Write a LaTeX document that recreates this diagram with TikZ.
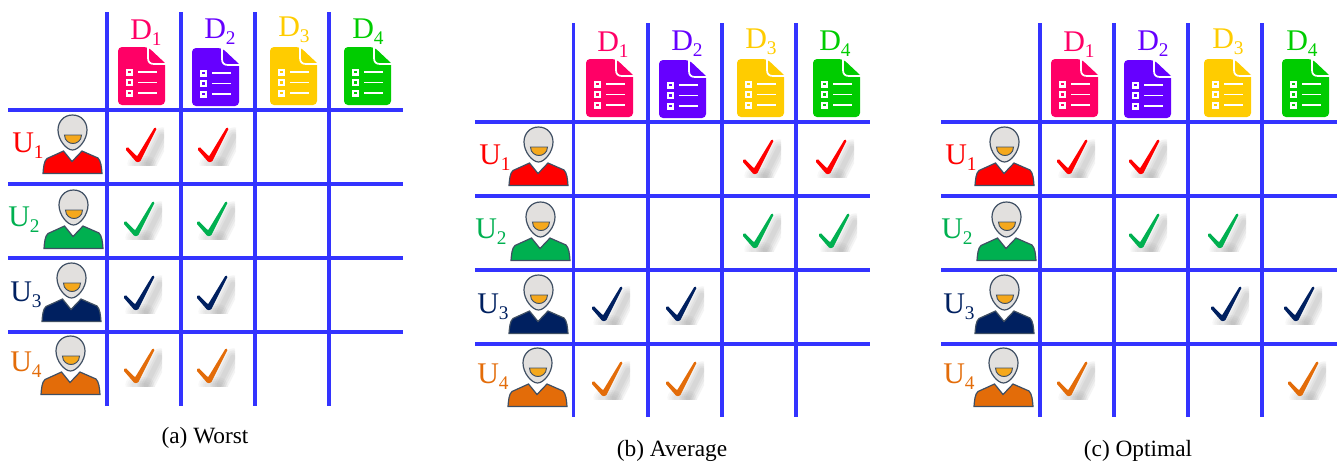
\documentclass[tikz,border=0pt]{standalone}
\usepackage{fontspec}
\setmainfont{Liberation Serif}
\usetikzlibrary{positioning, calc}

\definecolor{docone}{HTML}{FF0066}
\definecolor{doctwo}{HTML}{6600FF}
\definecolor{docthree}{HTML}{FFCC00}
\definecolor{docfour}{HTML}{00CC00}
\definecolor{usrone}{HTML}{FF0000}
\definecolor{usrtwo}{HTML}{00B050}
\definecolor{usrthree}{HTML}{002060}
\definecolor{usrfour}{HTML}{E36C09}
\definecolor{gridblue}{HTML}{3333FF}
\definecolor{outlinegray}{HTML}{3F4F63}
\definecolor{headgray}{HTML}{E2E0DE}
\definecolor{mouthorange}{HTML}{F5A81C}

\newcommand{\lowidx}[1]{\raisebox{-5.2pt}{\fontsize{14.5}{15}\selectfont #1}}

\tikzset{
	gridline/.style={gridblue,line width=2.4pt},
	headlabel/.style={anchor=base west,inner sep=0pt,font=\fontsize{22.5}{24}\selectfont},
	caption/.style={anchor=base,inner sep=0pt,font=\fontsize{17.5}{20}\selectfont},
	pics/docicon/.style={code={
		\fill[#1,rounded corners=3pt] (0,0) -- (30,0) [sharp corners] -- (47,16) [rounded corners=3pt] -- (47,58) -- (0,58) -- cycle;
		\draw[white,line width=1.3pt] (30,-1) -- (30,11) .. controls (30,15) and (32,17) .. (36,17) -- (48,17);
		\foreach \y in {25,35.5,46}{
			\fill[white] (8,\y-3.5) rectangle +(7,7);
			\fill[#1] (10.2,\y-1.2) rectangle +(2.6,2.6);
			\draw[white,line width=1.2pt] (20,\y) -- (39,\y);
		}
	}},
	pics/usericon/.style={code={
		\draw[fill=#1,draw=outlinegray,line width=0.9pt] (0,58.5) .. controls (0.5,52) and (1,46) .. (4,43.5) -- (20.5,36) -- (29,46.5) -- (39,36) -- (55,43) .. controls (58,46) and (58.5,52) .. (59,58.5) -- cycle;
		\draw[fill=headgray,draw=outlinegray,line width=0.9pt] (29.5,0) .. controls (38.5,0) and (44,7) .. (44,15) .. controls (44,25) and (35.5,35) .. (29.5,35) .. controls (23.5,35) and (15,25) .. (15,15) .. controls (15,7) and (20.5,0) .. (29.5,0) -- cycle;
		\draw[fill=mouthorange,draw=outlinegray,line width=0.7pt] (21.5,20) -- (38.5,20) .. controls (38.5,26) and (33.5,28.5) .. (30,28.5) .. controls (26.5,28.5) and (21.5,26) .. (21.5,20) -- cycle;
	}},
	pics/checkicon/.style={code={
		\begin{scope}
			\clip (-4,-25) rectangle (38,16);
			\foreach \w in {13,10,7,4}{
				\draw[gray,opacity=.09,line width=\w pt,line cap=round] (36,-13) -- (22,15);
				\draw[gray,opacity=.06,line width=\w pt,line cap=round] (10,15) -- (22,16);
			}
		\end{scope}
		\fill[#1,rounded corners=0.8pt] (-0.7,0.2) -- (1.6,-2.2) -- (11,7.5) -- (28.7,-21.7) -- (30.8,-20.8) -- (14,12.8) -- (10.5,13.2) -- cycle;
	}},
}

\begin{document}
\begin{tikzpicture}[x=0.75pt,y=-0.75pt]
	\useasboundingbox (0,0) rectangle (1339,462);

	% grids
	\foreach \xa/\ya/\yb in {107/12/406,181/12/406,255/12/406,329/12/406,
		573.5/23/417,648/23/417,722/23/417,796/23/417,
		1040/23/417,1114/23/417,1188/23/417,1262/23/417}{
		\draw[gridline] (\xa,\ya) -- (\xa,\yb);
	}
	\foreach \xa/\xb/\y in {8/403/110,8/403/184,8/403/258,8/403/332,
		475/870/122,475/870/196,475/870/270,475/870/344,
		941/1337/122,941/1337/196,941/1337/270,941/1337/344}{
		\draw[gridline] (\xa,\y) -- (\xb,\y);
	}

	% documents
	\foreach \x/\y/\c in {118/47/docone,192/48/doctwo,270/47/docthree,344/47/docfour,
		586/59/docone,659/60/doctwo,737/59/docthree,813/59/docfour,
		1051/59/docone,1124/60/doctwo,1204/59/docthree,1282/59/docfour}{
		\pic at (\x,\y) {docicon=\c};
	}
	\foreach \p/\x/\y/\n/\c in {a/130/39/1/docone,a/204/38/2/doctwo,a/278/36/3/docthree,a/352/38/4/docfour,
		b/597/51/1/docone,b/671/50/2/doctwo,b/745/48/3/docthree,b/819/50/4/docfour,
		c/1063/51/1/docone,c/1137/50/2/doctwo,c/1212/48/3/docthree,c/1286/50/4/docfour}{
		\node[headlabel,text=\c] (doclabel\p\n) at (\x,\y) {D\lowidx{\n}};
	}

	% users
	\foreach \x/\y/\c in {43/115/usrone,44/190/usrtwo,42/263/usrthree,41/336/usrfour,
		509/127/usrone,511/202/usrtwo,509/275/usrthree,508/348/usrfour,
		975/127/usrone,977/202/usrtwo,975/275/usrthree,974/348/usrfour}{
		\pic at (\x,\y) {usericon=\c};
	}
	\foreach \p/\x/\y/\n/\c in {a/12/152/1/usrone,a/8/226/2/usrtwo,a/10/301/3/usrthree,a/10/371/4/usrfour,
		b/479/164/1/usrone,b/475/238/2/usrtwo,b/477/313/3/usrthree,b/477/383/4/usrfour,
		c/945/164/1/usrone,c/941/238/2/usrtwo,c/943/313/3/usrthree,c/943/383/4/usrfour}{
		\node[headlabel,text=\c] (usrlabel\p\n) at (\x,\y) {U\lowidx{\n}};
	}

	% checks
	\foreach \x/\y/\c in {126/149/usrone,198/149/usrone,124/223/usrtwo,197/223/usrtwo,
		124/297/usrthree,197/297/usrthree,124/370/usrfour,197/370/usrfour,
		743/161/usrone,816/161/usrone,743/235/usrtwo,819/235/usrtwo,
		592/308/usrthree,666/308/usrthree,592/383/usrfour,666/383/usrfour,
		1057/161/usrone,1129/161/usrone,1129/235/usrtwo,1208/235/usrtwo,
		1211/308/usrthree,1284/308/usrthree,1057/383/usrfour,1288/383/usrfour}{
		\pic at (\x,\y) {checkicon=\c};
	}

	\node[caption] (captiona) at (205,443) {(a) Worst};
	\node[caption] (captionb) at (672,456) {(b) Average};
	\node[caption] (captionc) at (1138,456) {(c) Optimal};
\end{tikzpicture}
\end{document}
